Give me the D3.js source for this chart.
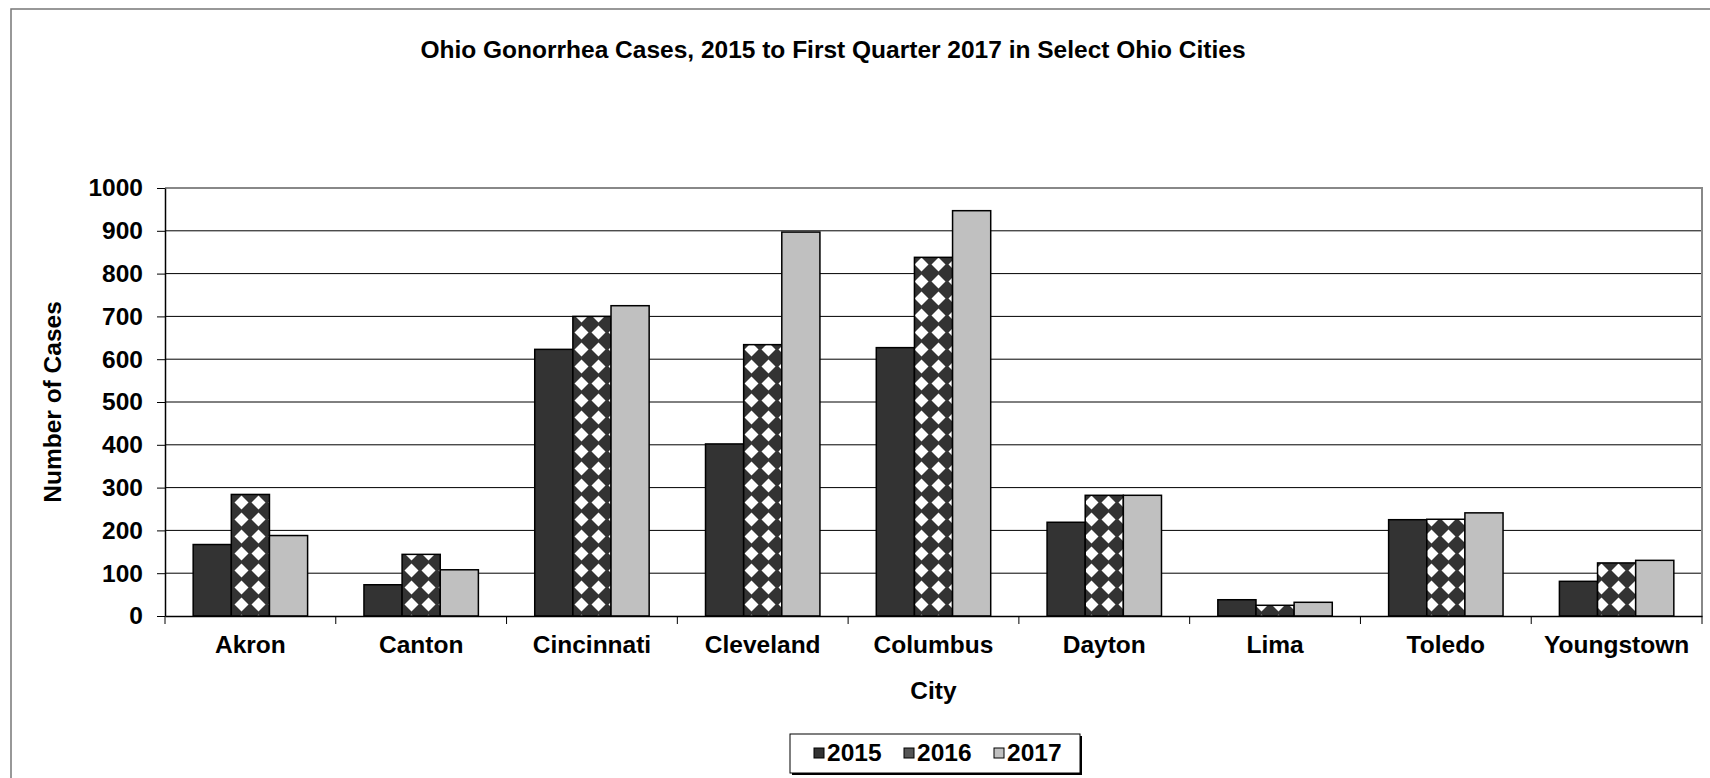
<!DOCTYPE html>
<html>
<head>
<meta charset="utf-8">
<script src="https://cdn.jsdelivr.net/npm/d3@7"></script>
<style>
    body { margin: 0; background: #fff; }
    text { font-family: "Liberation Sans", Arial, sans-serif; font-weight: bold; fill: #000; }
</style>
</head>
<body>
<div id="chart"></div>
<script>
// Data
const cities = ["Akron", "Canton", "Cincinnati", "Cleveland", "Columbus", "Dayton", "Lima", "Toledo", "Youngstown"];
const years = ["2015", "2016", "2017"];
const cases2015 = [167, 73, 623, 402, 627, 219, 38, 225, 81];
const cases2016 = [284, 144, 700, 634, 838, 282, 25, 226, 124];
const cases2017 = [188, 108, 725, 897, 947, 282, 32, 241, 130];
const yTicks = [0, 100, 200, 300, 400, 500, 600, 700, 800, 900, 1000];

const seriesValues = { "2015": cases2015, "2016": cases2016, "2017": cases2017 };
const plotData = cities.map((c, i) => years.map(y => ({ City: c, Year: y, Cases: seriesValues[y][i] }))).flat();

// Dimensions
const W = 1710, H = 778;
const margin = { top: 188, right: 8, bottom: 162, left: 165 };
const width = W - margin.left - margin.right;
const height = H - margin.top - margin.bottom;
const fontSize = "24.5px";

const root = d3.select("#chart")
    .append("svg")
    .attr("width", W)
    .attr("height", H);

// Pattern for 2016 (white diamonds on dark)
const defs = root.append("defs");
const pat = defs.append("pattern")
    .attr("id", "diamonds")
    .attr("patternUnits", "userSpaceOnUse")
    .attr("width", 17)
    .attr("height", 17);
pat.append("rect").attr("width", 17).attr("height", 17).attr("fill", "#333");
pat.append("path").attr("d", "M8.5,1.5 L15.5,8.5 L8.5,15.5 L1.5,8.5 Z").attr("fill", "#fff");

const fills = { "2015": "#333333", "2016": "url(#diamonds)", "2017": "#c0c0c0" };

// Outer chart border
root.append("rect")
    .attr("x", 11)
    .attr("y", 9)
    .attr("width", W)
    .attr("height", H)
    .attr("fill", "none")
    .attr("stroke", "#777")
    .attr("stroke-width", 1.5);

// Title
root.append("text")
    .attr("x", 833)
    .attr("y", 58)
    .attr("text-anchor", "middle")
    .style("font-size", fontSize)
    .text("Ohio Gonorrhea Cases, 2015 to First Quarter 2017 in Select Ohio Cities");

const svg = root.append("g")
    .attr("transform", `translate(${margin.left},${margin.top})`);

// Scales
const x0 = d3.scaleBand()
    .domain(cities)
    .range([0, width])
    .padding(0);

const x1 = d3.scaleBand()
    .domain(years)
    .range([x0.bandwidth() * 0.165, x0.bandwidth() * 0.835])
    .padding(0);

const y = d3.scaleLinear()
    .domain([0, 1000])
    .range([height, 0]);

// Gridlines
svg.append("g")
    .selectAll("line")
    .data(yTicks.filter(t => t > 0 && t < 1000))
    .join("line")
    .attr("x1", 0)
    .attr("x2", width)
    .attr("y1", d => y(d))
    .attr("y2", d => y(d))
    .attr("stroke", "#000")
    .attr("stroke-width", 1);

// Plot area border (top and right)
svg.append("path")
    .attr("d", `M0,${y(1000)} H${width} V${height}`)
    .attr("fill", "none")
    .attr("stroke", "#888")
    .attr("stroke-width", 2);

// Bars
svg.selectAll(".bar")
    .data(plotData)
    .join("rect")
    .attr("class", "bar")
    .attr("x", d => x0(d.City) + x1(d.Year))
    .attr("y", d => y(d.Cases))
    .attr("width", x1.bandwidth())
    .attr("height", d => height - y(d.Cases))
    .attr("fill", d => fills[d.Year])
    .attr("stroke", "#000")
    .attr("stroke-width", 1.5);

// Y axis
const yAxis = svg.append("g")
    .call(d3.axisLeft(y).tickValues(yTicks).tickFormat(d3.format("d"))
        .tickSize(8).tickPadding(14).tickSizeOuter(0));
yAxis.select(".domain").attr("stroke", "#000").attr("stroke-width", 1.5);
yAxis.selectAll("text").style("font-size", fontSize);

// X axis with ticks at category boundaries
const xAxis = svg.append("g")
    .attr("transform", `translate(0,${height})`)
    .call(d3.axisBottom(x0).tickSize(0).tickPadding(20).tickSizeOuter(0));
xAxis.select(".domain").attr("stroke", "#000").attr("stroke-width", 1.5);
xAxis.selectAll("text").style("font-size", fontSize);

xAxis.selectAll(".bound")
    .data(cities.map(c => x0(c)).concat([width]))
    .join("line")
    .attr("class", "bound")
    .attr("x1", d => d)
    .attr("x2", d => d)
    .attr("y1", 0)
    .attr("y2", 8)
    .attr("stroke", "#000");

// Axis labels
svg.append("text")
    .attr("x", width / 2)
    .attr("y", height + 83)
    .style("text-anchor", "middle")
    .style("font-size", fontSize)
    .text("City");

svg.append("text")
    .attr("transform", "rotate(-90)")
    .attr("x", -height / 2)
    .attr("y", -margin.left + 61)
    .style("text-anchor", "middle")
    .style("font-size", fontSize)
    .text("Number of Cases");

// Legend
const legend = root.append("g")
    .attr("transform", "translate(790,734)");

legend.append("rect")
    .attr("x", 2)
    .attr("y", 2)
    .attr("width", 290)
    .attr("height", 39)
    .attr("fill", "#000");

legend.append("rect")
    .attr("width", 290)
    .attr("height", 39)
    .attr("fill", "#fff")
    .attr("stroke", "#000")
    .attr("stroke-width", 1);

const legendX = [24, 114, 204];
years.forEach((yr, i) => {
    const row = legend.append("g")
        .attr("transform", `translate(${legendX[i]},0)`);
    row.append("rect")
        .attr("y", 14)
        .attr("width", 10)
        .attr("height", 10)
        .attr("fill", fills[yr] === "url(#diamonds)" ? "#555" : fills[yr])
        .attr("stroke", "#000")
        .attr("stroke-width", 1);
    row.append("text")
        .attr("x", 13)
        .attr("y", 27)
        .style("font-size", fontSize)
        .text(yr);
});
</script>
</body>
</html>
